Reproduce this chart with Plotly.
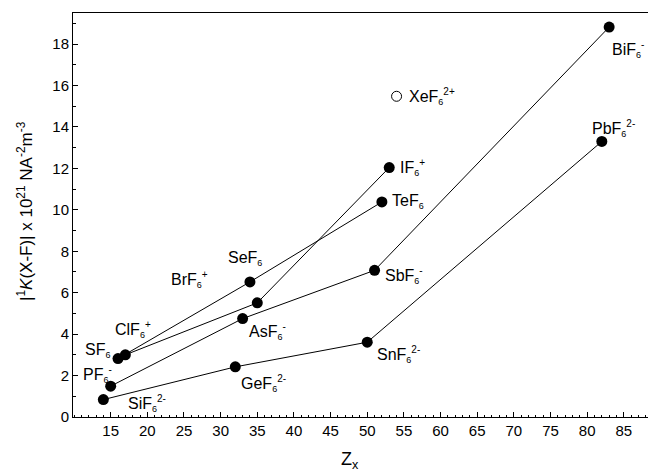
import plotly.graph_objects as go

# ---- data ----
group14_z = [14, 32, 50, 82]
group14_k = [0.84, 2.42, 3.61, 13.30]
group14_lbl = ["Si", "Ge", "Sn", "Pb"]
group14_chg = ["2-", "2-", "2-", "2-"]

group15_z = [15, 33, 51, 83]
group15_k = [1.49, 4.75, 7.08, 18.82]
group15_lbl = ["P", "As", "Sb", "Bi"]
group15_chg = ["-", "-", "-", "-"]

group16_z = [16, 34, 52]
group16_k = [2.82, 6.52, 10.38]
group16_lbl = ["S", "Se", "Te"]
group16_chg = ["", "", ""]

group17_z = [17, 35, 53]
group17_k = [3.00, 5.51, 12.04]
group17_lbl = ["Cl", "Br", "I"]
group17_chg = ["+", "+", "+"]

xe_z = [54]
xe_k = [15.48]
xe_lbl = ["Xe"]
xe_chg = ["2+"]

x_ticks = [15, 20, 25, 30, 35, 40, 45, 50, 55, 60, 65, 70, 75, 80, 85]
y_ticks = [0, 2, 4, 6, 8, 10, 12, 14, 16, 18]

# ---- label placement (pixel offsets from each point: label left edge, vertical) ----
offsets = {
    "Si": (23, -4), "Ge": (4, -17), "Sn": (8, -12), "Pb": (-12, 13),
    "P": (-30, 12), "As": (4, -13), "Sb": (8, -5), "Bi": (1, -22),
    "S": (-35, 8), "Se": (-24, 23), "Te": (8, 0),
    "Cl": (-12, 25), "Br": (-88, 23), "I": (9, 0),
    "Xe": (10, 0),
}

FONT = "Liberation Sans, Arial, sans-serif"


def label_html(el, chg):
    s = f"{el}F<sub><span style='font-size:9px'>6</span></sub>"
    if chg:
        s += f"<sup><span style='font-size:10px'>{chg}</span></sup>"
    return s


fig = go.Figure()
annotations = []

series = [
    (group14_z, group14_k, group14_lbl, group14_chg, True),
    (group15_z, group15_k, group15_lbl, group15_chg, True),
    (group16_z, group16_k, group16_lbl, group16_chg, True),
    (group17_z, group17_k, group17_lbl, group17_chg, True),
    (xe_z, xe_k, xe_lbl, xe_chg, False),
]

for zs, ks, lbls, chgs, filled in series:
    if filled:
        fig.add_trace(go.Scatter(
            x=zs, y=ks, mode="lines+markers",
            line=dict(color="black", width=1),
            marker=dict(color="black", size=11, symbol="circle"),
            showlegend=False, hoverinfo="skip", cliponaxis=False))
    else:
        fig.add_trace(go.Scatter(
            x=zs, y=ks, mode="markers",
            marker=dict(color="black", size=10, symbol="circle-open",
                        line=dict(width=1, color="black")),
            showlegend=False, hoverinfo="skip", cliponaxis=False))
    for z, k, el, chg in zip(zs, ks, lbls, chgs):
        dx, dy = offsets[el]
        annotations.append(dict(
            x=z, y=k, xref="x", yref="y", text=label_html(el, chg),
            showarrow=False, xanchor="left", yanchor="middle",
            xshift=dx, yshift=dy,
            font=dict(family=FONT, size=16, color="black")))

# axis titles as annotations
annotations.append(dict(
    x=0.4817, y=0, xref="paper", yref="paper",
    text="Z<sub>x</sub>", showarrow=False, xanchor="center", yanchor="middle",
    yshift=-43, font=dict(family=FONT, size=18, color="black")))
annotations.append(dict(
    x=0, y=0.5, xref="paper", yref="paper",
    text="|<sup>1</sup><i>K</i>(X-F)| x 10<sup>21</sup> NA<sup>-2</sup>m<sup>-3</sup>",
    showarrow=False, xanchor="center", yanchor="middle", textangle=-90,
    xshift=-48, yshift=4, font=dict(family=FONT, size=17, color="black")))

fig.update_layout(
    width=648, height=472,
    margin=dict(l=73, r=0, t=13, b=55),
    paper_bgcolor="white", plot_bgcolor="white",
    font=dict(family=FONT, size=15, color="black"),
    annotations=annotations,
    xaxis=dict(
        range=[9.86, 88.3], tickvals=x_ticks, ticktext=[str(v) for v in x_ticks],
        showgrid=False, zeroline=False, showline=True, linecolor="black",
        linewidth=1, mirror=True, ticks="inside", ticklen=5, tickwidth=1,
        tickcolor="black", tickfont=dict(family=FONT, size=15),
        minor=dict(dtick=1, tick0=0, ticks="inside", ticklen=2.5,
                   tickcolor="black", tickwidth=1, showgrid=False),
    ),
    yaxis=dict(
        range=[0, 19.5], tickvals=y_ticks, ticktext=[str(v) for v in y_ticks],
        showgrid=False, zeroline=False, showline=True, linecolor="black",
        linewidth=1, ticks="inside", ticklen=5, tickwidth=1,
        tickcolor="black", tickfont=dict(family=FONT, size=15),
        minor=dict(dtick=1, tick0=0, ticks="inside", ticklen=3,
                   tickcolor="black", tickwidth=1, showgrid=False),
    ),
)

fig.write_html("out.html", config={"displayModeBar": False},
               post_script="document.body.style.margin='0px';document.body.style.padding='0px';")
